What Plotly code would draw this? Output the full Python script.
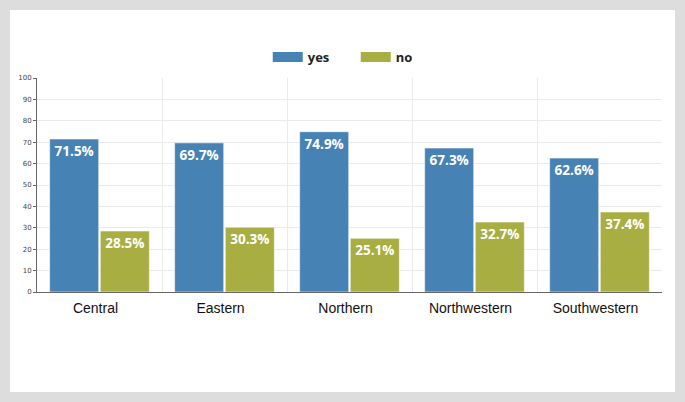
import plotly.graph_objects as go

regions = ["Central", "Eastern", "Northern", "Northwestern", "Southwestern"]
yes_pct = [71.5, 69.7, 74.9, 67.3, 62.6]
no_pct = [28.5, 30.3, 25.1, 32.7, 37.4]
y_ticks = list(range(0, 101, 10))

BLUE = "#4682b4"
OLIVE = "#a8ae42"

fig = go.Figure()


def addBars(fig, vals, name, color):
    fig.add_trace(
        go.Bar(
            x=regions,
            y=vals,
            name=name,
            marker=dict(color=color, line=dict(color="rgba(255,255,255,0.6)", width=1)),
            text=[f"{v:.1f}%" for v in vals],
            textposition="inside",
            insidetextanchor="end",
            textangle=0,
            textfont=dict(family="Open Sans", size=13.5, color="white", weight="bold"),
            showlegend=False,
            hoverinfo="skip",
        )
    )
    # legend swatch drawn as a thick line so it looks like the wide box
    fig.add_trace(
        go.Scatter(
            x=[None],
            y=[None],
            mode="lines",
            name=name,
            line=dict(color=color, width=13),
        )
    )


addBars(fig, yes_pct, "yes", BLUE)
addBars(fig, no_pct, "no", OLIVE)

fig.update_layout(
    width=685,
    height=402,
    margin=dict(l=37, r=23, t=78, b=110),
    paper_bgcolor="#dddddd",
    plot_bgcolor="white",
    barmode="group",
    bargap=0.19,
    bargroupgap=0.03,
    legend=dict(
        orientation="h",
        x=0.51,
        xanchor="center",
        y=1.098,
        yanchor="middle",
        entrywidth=43,
        font=dict(family="Open Sans", size=13, color="#222", weight="bold"),
        bgcolor="rgba(0,0,0,0)",
        itemclick=False,
    ),
    shapes=[
        dict(
            type="rect",
            xref="paper",
            yref="paper",
            x0=-0.0432,
            x1=1.0208,
            y0=-0.467,
            y1=1.3178,
            fillcolor="white",
            line=dict(width=0),
            layer="below",
        )
    ],
    xaxis=dict(
        type="category",
        tickson="boundaries",
        showgrid=True,
        gridcolor="#ebebeb",
        ticks="",
        showline=True,
        linecolor="#666",
        linewidth=1,
        ticklabelshift=-4,
        ticklabelstandoff=3,
        tickfont=dict(family="Arial", size=14, color="#111"),
        fixedrange=True,
    ),
    yaxis=dict(
        range=[0, 100],
        tickvals=y_ticks,
        showgrid=True,
        gridcolor="#ebebeb",
        zeroline=False,
        showline=True,
        linecolor="#666",
        linewidth=1,
        ticks="outside",
        ticklen=3,
        tickcolor="#666",
        tickfont=dict(family="DejaVu Sans", size=7, color="#444"),
        fixedrange=True,
    ),
)

# the page body has an 8px default margin; drop it so the figure fills the window
fig.write_html(
    "out.html",
    config={"displayModeBar": False},
    post_script="document.body.style.margin='0';",
)
